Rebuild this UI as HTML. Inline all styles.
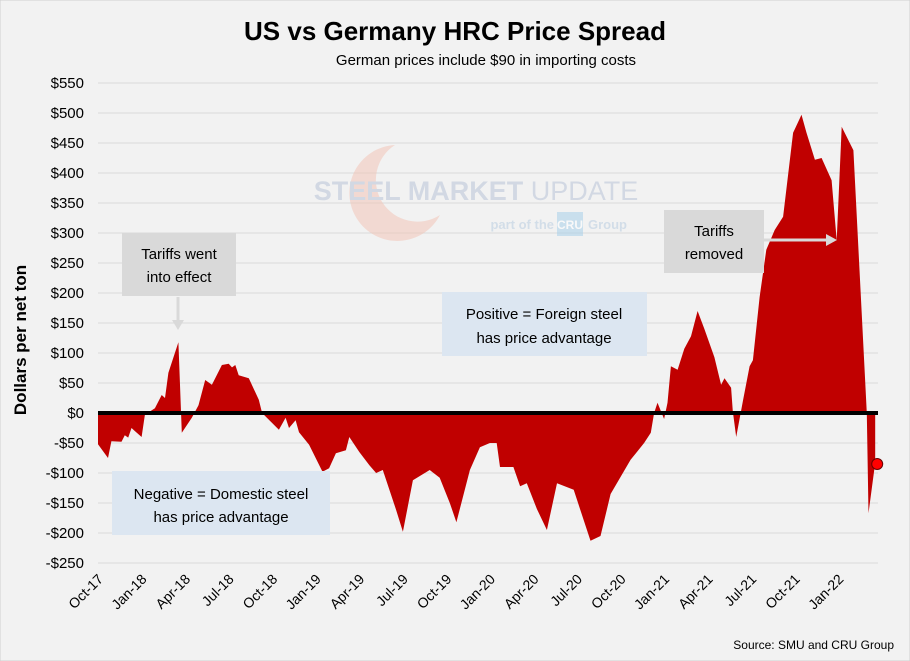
<!DOCTYPE html>
<html><head><meta charset="utf-8"><style>
body{margin:0;background:#f2f2f2;}
svg{display:block;font-family:"Liberation Sans",sans-serif;}
</style></head><body>
<svg width="910" height="661" viewBox="0 0 910 661">
<rect x="0" y="0" width="910" height="661" fill="#f2f2f2" stroke="#d0d0d0"/>
<text x="455" y="40" text-anchor="middle" font-size="26" font-weight="bold" fill="#000">US vs Germany HRC Price Spread</text>
<text x="486" y="65" text-anchor="middle" font-size="15" fill="#000">German prices include $90 in importing costs</text>
<g id="grid"></g>
<g id="yticks"></g>
<g opacity="0.55">
<path d="M395,145 A48,48 0 1,0 440,215 A40,40 0 1,1 395,145Z" fill="#f3c6b8"/>
<text x="476" y="200" text-anchor="middle" font-size="27" font-weight="bold" fill="#b8c4d8">STEEL MARKET <tspan font-weight="normal">UPDATE</tspan></text>
<text x="554" y="229" font-size="13" font-weight="bold" fill="#b8cde0" text-anchor="end">part of the</text>
<rect x="557" y="212" width="26" height="24" fill="#a9d0ea"/>
<text x="570" y="229" font-size="12" font-weight="bold" fill="#fff" text-anchor="middle">CRU</text>
<text x="588" y="229" font-size="13" font-weight="bold" fill="#b8cde0">Group</text>
</g>
<path id="area" fill="#c00000"/>
<line x1="98" y1="413" x2="878" y2="413" stroke="#000" stroke-width="4"/>
<circle id="lastdot" r="5.5" fill="#ff0000" stroke="#600" stroke-width="1"/>
<g id="xticks"></g>
<text transform="translate(26,340) rotate(-90)" text-anchor="middle" font-size="17" font-weight="bold">Dollars per net ton</text>
<g>
<rect x="122" y="233" width="114" height="63" fill="#d9d9d9"/>
<text x="179" y="259" text-anchor="middle" font-size="15">Tariffs went</text>
<text x="179" y="282" text-anchor="middle" font-size="15">into effect</text>
<line x1="178" y1="297" x2="178" y2="322" stroke="#d9d9d9" stroke-width="3"/>
<path d="M172,320 L184,320 L178,330Z" fill="#d9d9d9"/>
</g>
<g>
<rect x="442" y="292" width="205" height="64" fill="#dce6f1"/>
<text x="544" y="319" text-anchor="middle" font-size="15">Positive = Foreign steel</text>
<text x="544" y="343" text-anchor="middle" font-size="15">has price advantage</text>
</g>
<g>
<rect x="112" y="471" width="218" height="64" fill="#dce6f1"/>
<text x="221" y="499" text-anchor="middle" font-size="15">Negative = Domestic steel</text>
<text x="221" y="522" text-anchor="middle" font-size="15">has price advantage</text>
</g>
<g>
<rect x="664" y="210" width="100" height="63" fill="#d9d9d9"/>
<text x="714" y="236" text-anchor="middle" font-size="15">Tariffs</text>
<text x="714" y="259" text-anchor="middle" font-size="15">removed</text>
<line x1="764" y1="240" x2="828" y2="240" stroke="#d9d9d9" stroke-width="3"/>
<path d="M826,234 L837,240 L826,246Z" fill="#d9d9d9"/>
</g>
<text x="894" y="649" text-anchor="end" font-size="12">Source: SMU and CRU Group</text>
</svg>
<script>
const weeks = [0,3,4,7,8,9,10,11,13,14,17,19,20,21,24,25,28,30,32,34,37,39,40,41,42,45,48,49,54,56,57,59,60,63,67,69,71,74,75,78,81,83,85,89,91,94,99,102,105,107,111,114,117,119,120,124,126,128,131,134,137,142,147,150,153,159,163,165,166,167,169,170,171,173,175,177,179,181,184,186,187,189,189.5,190.5,192.5,194.5,195.5,197.5,199.5,202,204.5,207.5,210,211.5,214,216,219,220.5,222,225.5,229.5,230,232];
const values = [-52,-75,-47,-48,-37,-41,-25,-30,-40,-3,8,30,25,67,118,-33,-8,13,55,47,80,82,76,80,63,58,22,0,-28,-8,-25,-12,-32,-53,-98,-92,-67,-62,-40,-65,-87,-100,-95,-162,-198,-112,-95,-108,-150,-182,-95,-57,-50,-50,-90,-90,-122,-117,-160,-195,-117,-128,-213,-205,-135,-78,-50,-33,0,17,-10,17,78,72,107,128,170,140,93,47,58,42,3,-40,20,78,88,193,272,305,327,467,497,467,422,425,388,288,477,438,0,-167,-83,-78];
const yTicks = [550,500,450,400,350,300,250,200,150,100,50,0,-50,-100,-150,-200,-250];
const xLabels = ["Oct-17","Jan-18","Apr-18","Jul-18","Oct-18","Jan-19","Apr-19","Jul-19","Oct-19","Jan-20","Apr-20","Jul-20","Oct-20","Jan-21","Apr-21","Jul-21","Oct-21","Jan-22"];
const lastValue = -85;
const NS="http://www.w3.org/2000/svg";
const xs = w => 98 + w*3.35;
const ys = v => 413 - v*0.6;
const grid=document.getElementById('grid'), yt=document.getElementById('yticks'), xt=document.getElementById('xticks');
yTicks.forEach(v=>{
  const l=document.createElementNS(NS,'line');
  l.setAttribute('x1',98);l.setAttribute('x2',878);l.setAttribute('y1',ys(v));l.setAttribute('y2',ys(v));
  l.setAttribute('stroke','#d9d9d9');l.setAttribute('stroke-width','1');
  
  
  grid.appendChild(l);
  const t=document.createElementNS(NS,'text');
  t.setAttribute('x',84);t.setAttribute('y',ys(v)+5);t.setAttribute('text-anchor','end');t.setAttribute('font-size','15');
  t.textContent=(v<0?'-$':'$')+Math.abs(v);
  
  
  yt.appendChild(t);
});
xLabels.forEach((s,i)=>{
  const x=xs(i*13)+6;
  const t=document.createElementNS(NS,'text');
  t.setAttribute('transform','translate('+x+',580) rotate(-45)');
  t.setAttribute('text-anchor','end');t.setAttribute('font-size','14');
  t.textContent=s;
  
  
  xt.appendChild(t);
});
let d='M'+xs(weeks[0])+','+ys(0);
weeks.forEach((w,i)=>{d+=' L'+xs(w).toFixed(1)+','+ys(values[i]).toFixed(1);});
d+=' L'+xs(weeks[weeks.length-1])+','+ys(0)+'Z';
document.getElementById('area').setAttribute('d',d);
const dot=document.getElementById('lastdot');
dot.setAttribute('cx',xs(weeks[weeks.length-1])+2);dot.setAttribute('cy',ys(lastValue));
</script>
</body></html>
